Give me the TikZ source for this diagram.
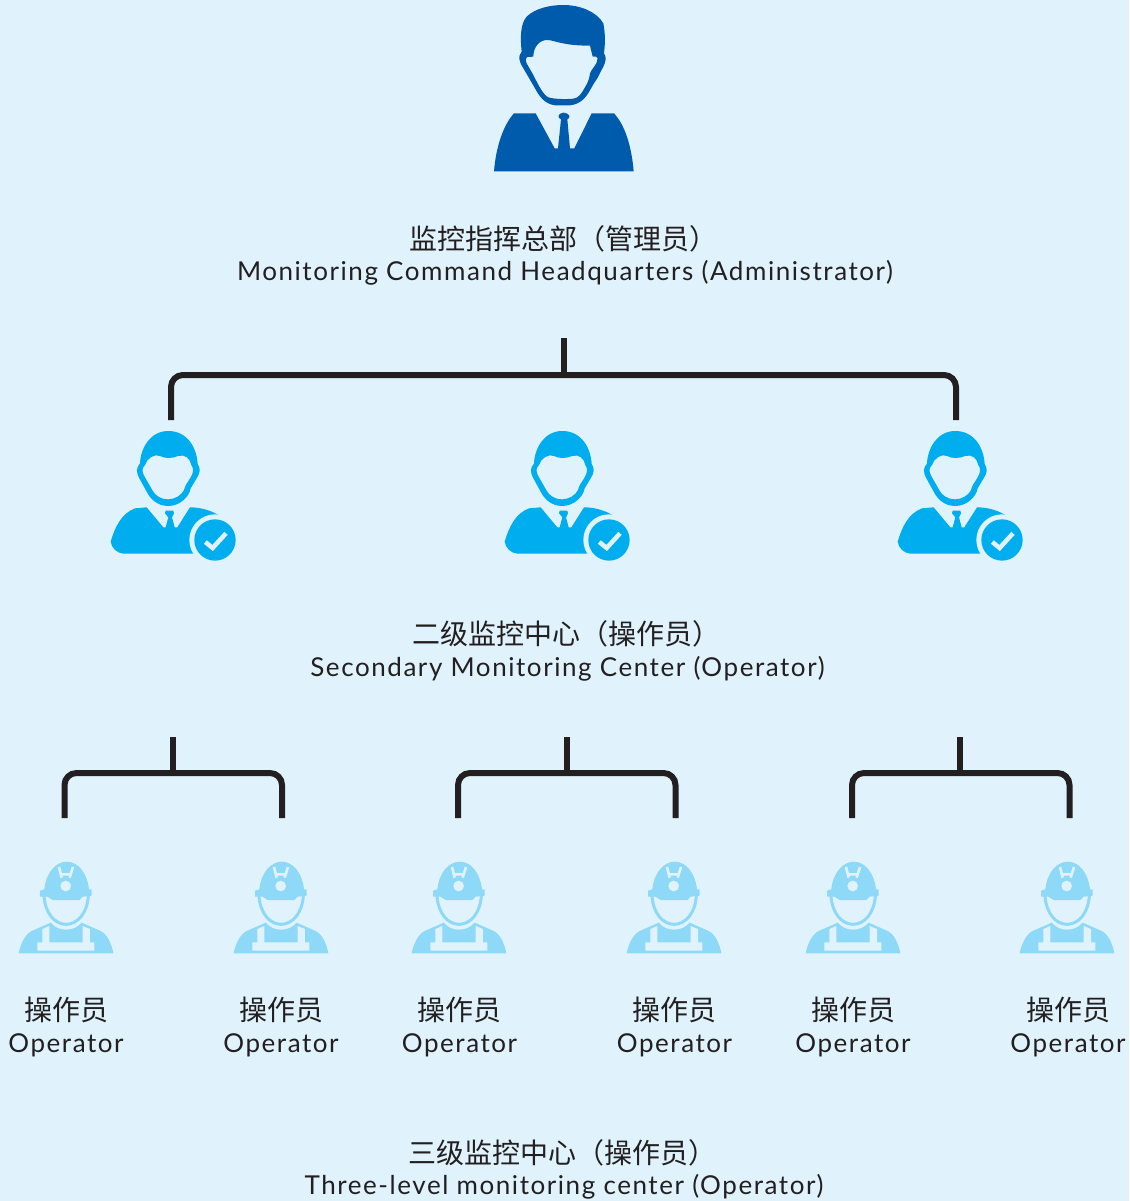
\documentclass[tikz,border=0pt]{standalone}
\usepackage{fontspec}
\setmainfont[LetterSpace=6]{Lato}
\newfontfamily\cjk{Noto Sans CJK SC}
\definecolor{bgc}{HTML}{E0F3FC}
\definecolor{boss}{HTML}{005BAC}
\definecolor{sec}{HTML}{00AEEF}
\definecolor{wrk}{HTML}{8ED8F8}
\definecolor{ink}{HTML}{231F20}
\tikzset{
 cn/.style={font=\cjk\fontsize{28}{30}\selectfont,text=ink,inner sep=0pt,anchor=center},
 en/.style={font=\fontsize{26}{30}\selectfont,text=ink,inner sep=0pt,anchor=center},
 wire/.style={draw=ink,line width=6pt,rounded corners=12pt},
 stem/.style={draw=ink,line width=6pt},
 zoomed/.style={x=0.3333pt,y=-0.3333pt},
}
\newcommand{\secicon}[1]{%
\begin{scope}[shift={(#1,420)},zoomed]
 \fill[sec,even odd rule]
  (120,130) .. controls (122,85) and (150,33) .. (205,33) .. controls (260,33) and (290,80) .. (293,132) .. controls (303,145) and (300,160) .. (290,175) -- (272,205) .. controls (268,230) and (240,258) .. (205,258) .. controls (170,258) and (150,235) .. (140,215) -- (118,175) .. controls (108,155) and (108,145) .. (120,130) -- cycle
  (135,135) .. controls (140,115) and (165,100) .. (180,108) .. controls (195,116) and (215,116) .. (235,108) .. controls (255,102) and (270,115) .. (274,135) .. controls (282,145) and (280,160) .. (272,172) .. controls (262,190) and (255,195) .. (252,210) .. controls (245,225) and (225,238) .. (205,238) .. controls (180,238) and (165,225) .. (158,212) -- (135,172) .. controls (125,155) and (125,145) .. (135,135) -- cycle;
 \fill[sec,line join=round] (32,365) .. controls (45,320) and (65,280) .. (105,265) -- (140,262) -- (190,322) -- (197,322) -- (205,292) -- (195,280) -- (197,272) -- (220,272) -- (222,280) -- (216,292) -- (224,322) -- (232,322) -- (270,262) .. controls (300,262) and (330,270) .. (355,285) -- (360,401) -- (70,401) .. controls (50,399) and (35,385) .. (32,365) -- cycle;
 \fill[bgc] (345,360) circle (77);
 \fill[sec] (345,360) circle (62);
 \draw[bgc,line width=4.5pt] (316,366) -- (338,384) -- (378,340);
\end{scope}}
\newcommand{\wrkicon}[1]{%
\begin{scope}[shift={(#1,855)},zoomed]
 \fill[wrk] (90,107) -- (103,103) .. controls (108,50) and (140,20) .. (170,20) .. controls (205,20) and (232,55) .. (237,103) -- (245,103) -- (245,122) -- (218,125) -- (208,135) -- (128,135) -- (112,125) -- (90,125) -- cycle;
 \draw[bgc,line width=2.6pt] (147,36) -- (155,68) (189,36) -- (179,68) (154,58) -- (181,58);
 \fill[bgc] (167,93) circle (16);
 \draw[wrk,line width=3pt] (102,122) .. controls (105,175) and (135,208) .. (168,208) .. controls (202,208) and (232,175) .. (235,122);
 \fill[wrk] (26,295) .. controls (33,260) and (48,237) .. (65,228) -- (122,203) .. controls (135,218) and (150,224) .. (168,224) .. controls (186,224) and (202,218) .. (215,203) -- (272,228) .. controls (290,237) and (304,262) .. (310,295) -- cycle;
 \fill[bgc] (97,222) -- (118,213) -- (118,262) -- (218,262) -- (218,213) -- (240,222) -- (240,262) -- (253,262) -- (253,287) -- (82,287) -- (82,262) -- (97,262) -- cycle;
\end{scope}}
\begin{document}
\begin{tikzpicture}[x=1pt,y=-1pt]
\useasboundingbox (0,0) rectangle (1129,1201);
\fill[bgc] (0,0) rectangle (1129,1201);
% boss
\begin{scope}[shift={(480,0)},zoomed]
 \fill[boss,even odd rule]
  (125,155) .. controls (120,110) and (122,70) .. (140,50) .. controls (165,25) and (210,15) .. (250,15) .. controls (300,15) and (350,35) .. (370,70) .. controls (376,100) and (376,130) .. (372,160) .. controls (380,170) and (378,185) .. (370,200) -- (352,235) .. controls (345,245) and (342,250) .. (335,262) .. controls (320,290) and (305,312) .. (270,316) -- (225,316) .. controls (195,312) and (178,290) .. (165,265) -- (130,205) .. controls (118,185) and (112,170) .. (125,155) -- cycle
  (160,170) .. controls (160,140) and (180,118) .. (205,120) .. controls (235,125) and (255,137) .. (330,137) -- (338,170) .. controls (345,168) and (352,170) .. (353,175) .. controls (352,195) and (335,205) .. (330,220) .. controls (328,235) and (325,245) .. (315,262) .. controls (305,280) and (295,295) .. (280,296) .. controls (260,298) and (225,298) .. (205,292) .. controls (190,285) and (175,255) .. (160,225) -- (140,190) .. controls (136,180) and (136,172) .. (142,171) -- cycle;
 \fill[boss] (42,514) .. controls (48,440) and (70,375) .. (102,340) -- (167,340) -- (224,445) -- (234,445) -- (243,358) .. controls (232,355) and (232,340) .. (250,338) .. controls (272,340) and (272,355) .. (262,358) -- (270,445) -- (283,445) -- (335,340) -- (402,340) .. controls (435,375) and (455,440) .. (461,514) -- cycle;
\end{scope}
\secicon{100}\secicon{494}\secicon{887}
\foreach \x in {10,225,403,618,797,1011}{\wrkicon{\x}}
% texts
\node[cn] (t1a) at (563,239) {监控指挥总部（管理员）};
\node[en] (t1b) at (565,273) {Monitoring Command Headquarters (Administrator)};
\node[cn] (t2a) at (566,634) {二级监控中心（操作员）};
\node[en] (t2b) at (567.5,669) {Secondary Monitoring Center (Operator)};
\node[cn] (t3a) at (562,1153) {三级监控中心（操作员）};
\node[en] (t3b) at (564,1187) {Three-level monitoring center (Operator)};
\foreach \x/\n in {66/a,281/b,459.5/c,674.5/d,853/e,1068/f}{
 \node[cn] (op\n) at (\x,1010) {操作员};
 \node[en] (en\n) at (\x,1045) {Operator};
}
% connectors
\coordinate (r0) at (564,338);\coordinate (r1) at (564,375);
\coordinate (ra) at (171,420);\coordinate (rb) at (956,420);
\draw[stem] (r0) -- (r1);
\draw[wire] (ra) |- (r1) -| (rb);
\foreach \n/\c/\l/\r in {p/173/64.5/282,q/567/458/675.5,s/960/852/1069.5}{
 \coordinate (\n0) at (\c,737);\coordinate (\n1) at (\c,773);
 \coordinate (\n a) at (\l,818);\coordinate (\n b) at (\r,818);
 \draw[stem] (\n0) -- (\n1);
 \draw[wire] (\n a) |- (\n1) -| (\n b);
}
\end{tikzpicture}
\end{document}
